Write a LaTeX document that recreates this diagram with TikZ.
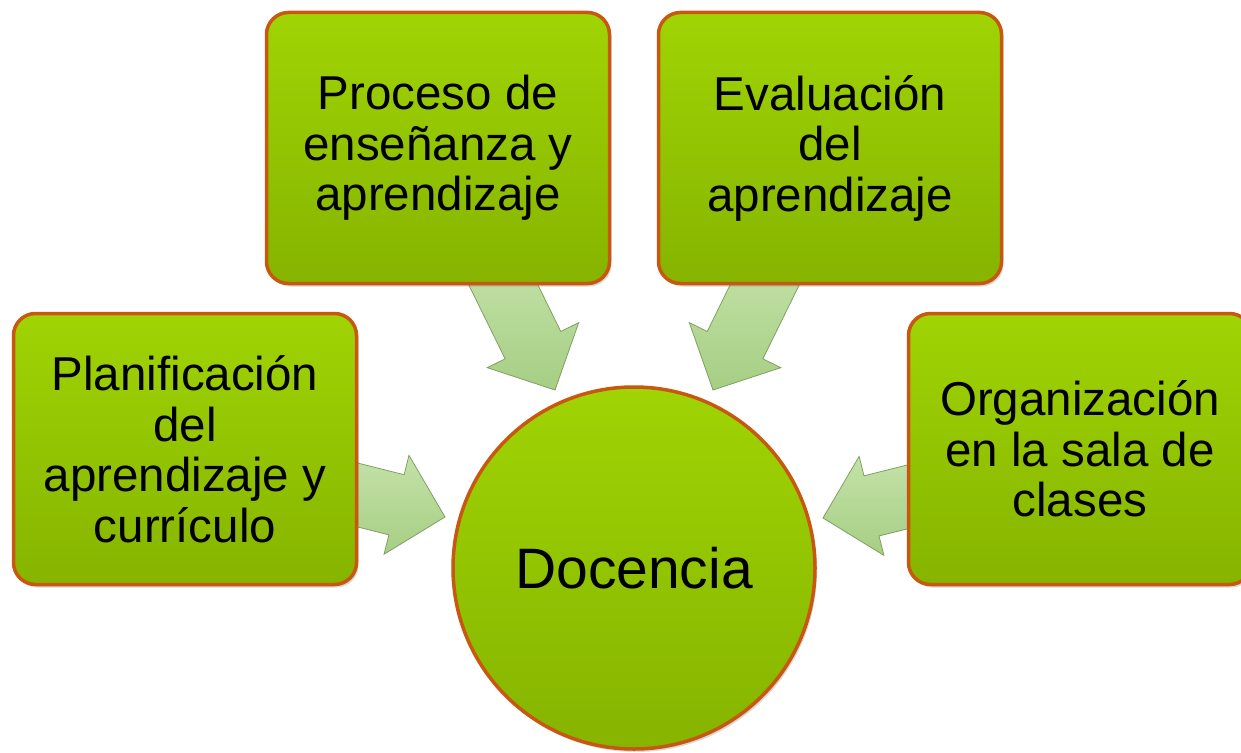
\documentclass[tikz,border=0pt]{standalone}
\usepackage{fontspec}
\setmainfont{Liberation Sans}
\usetikzlibrary{calc,shadows}
\definecolor{boxtop}{RGB}{160,212,4}
\definecolor{boxbot}{RGB}{134,180,0}
\definecolor{boxedge}{RGB}{200,88,16}
\definecolor{arrtop}{RGB}{196,226,168}
\definecolor{arrbot}{RGB}{166,206,132}
\definecolor{arredge}{RGB}{128,160,98}
\tikzset{
  gbox/.style={draw=boxedge, line width=3.5pt, rounded corners=22pt,
    top color=boxtop, bottom color=boxbot, minimum width=343pt, minimum height=271pt,
    align=center, inner sep=0pt, font=\fontsize{47.5}{50.5}\selectfont,
    drop shadow={opacity=0.3, shadow xshift=2pt, shadow yshift=-3pt}},
  gcirc/.style={circle, draw=boxedge, line width=3.5pt,
    top color=boxtop, bottom color=boxbot, minimum size=362pt, inner sep=0pt,
    font=\fontsize{57}{62}\selectfont,
    drop shadow={opacity=0.3, shadow xshift=2pt, shadow yshift=-3pt}},
  blockarrow/.style={draw=arredge, line width=0.8pt, top color=arrtop, bottom color=arrbot, line join=miter}
}
% #1 tail, #2 tip
\newcommand{\blockarr}[2]{%
  \path[blockarrow]
    ($(#1)!31pt!90:(#2)$) --
    ($($(#2)!50pt!(#1)$)!31pt!-90:(#1)$) --
    ($($(#2)!50pt!(#1)$)!51pt!-90:(#1)$) --
    (#2) --
    ($($(#2)!50pt!(#1)$)!51pt!90:(#1)$) --
    ($($(#2)!50pt!(#1)$)!31pt!90:(#1)$) --
    ($(#1)!31pt!-90:(#2)$) -- cycle;}
\begin{document}
\begin{tikzpicture}[x=1pt,y=-1pt]
\useasboundingbox (0,0) rectangle (1241,752);
% arrow end points
\coordinate (tL) at (330,488);  \coordinate (pL) at (445,517);
\coordinate (tA) at (495,268);  \coordinate (pA) at (555,390);
\coordinate (tB) at (773,268);  \coordinate (pB) at (713,390);
\coordinate (tR) at (935,490);  \coordinate (pR) at (823,518);
\blockarr{tL}{pL}
\blockarr{tA}{pA}
\blockarr{tB}{pB}
\blockarr{tR}{pR}
% boxes
\node[gbox] (plan) at (185,449) {Planificación\\del\\aprendizaje y\\currículo};
\node[gbox] (proc) at (438,148) {Proceso de\\enseñanza y\\aprendizaje};
\node[gbox] (eval) at (830,148) {Evaluación\\del\\aprendizaje};
\node[gbox] (org) at (1080,449) {Organización\\en la sala de\\clases};
\node[gcirc] (doc) at (634,568) {Docencia};
\end{tikzpicture}
\end{document}
